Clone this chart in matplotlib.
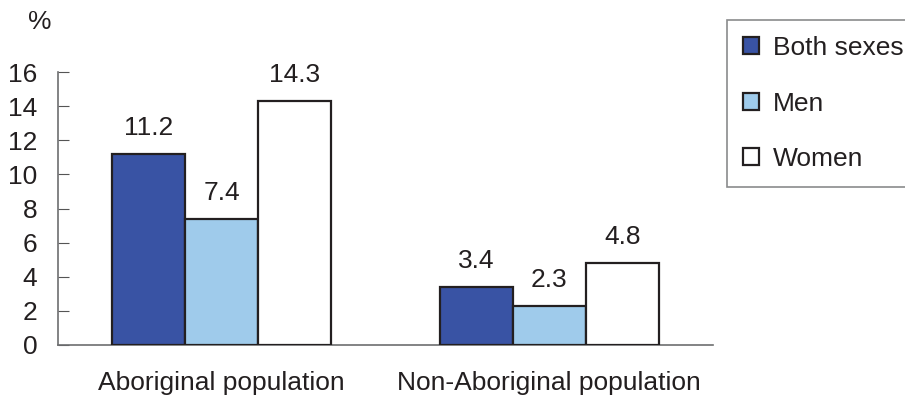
import matplotlib.pyplot as plt
import numpy as np

plt.rcParams['font.family'] = ['Liberation Sans', 'DejaVu Sans']

groups = ['Aboriginal population', 'Non-Aboriginal population']
series = ['Both sexes', 'Men', 'Women']
both_sexes = [11.2, 3.4]
men = [7.4, 2.3]
women = [14.3, 4.8]
y_ticks = [0, 2, 4, 6, 8, 10, 12, 14, 16]

colors = ['#3953a4', '#9fcbeb', '#ffffff']
ink = '#231f20'
fs = 19

fig = plt.figure(figsize=(9.05, 3.97), dpi=100)
ax = fig.add_axes([58 / 905, 1 - 345 / 397, 655 / 905, 273 / 397])

x = np.arange(len(groups))
w = 0.223
handles = []
for i, (vals, c) in enumerate(zip([both_sexes, men, women], colors)):
    bars = ax.bar(x + (i - 1) * w, vals, w, color=c, edgecolor=ink,
                  linewidth=1.6, label=series[i], zorder=3)
    handles.append(bars)
    for xi, v in zip(x + (i - 1) * w, vals):
        ax.text(xi, v + 0.8, f'{v:.1f}', ha='center', va='bottom',
                fontsize=fs, color=ink)

ax.set_xlim(-0.5, 1.5)
ax.set_ylim(0, 16)
ax.set_yticks(y_ticks)
ax.set_xticks(x)
ax.set_xticklabels(groups)
ax.tick_params(axis='y', direction='in', length=8, color='#555555',
               labelsize=fs, labelcolor=ink, pad=15)
ax.tick_params(axis='x', length=0, labelsize=fs, labelcolor=ink, pad=19)
for s in ['top', 'right']:
    ax.spines[s].set_visible(False)
for s in ['left', 'bottom']:
    ax.spines[s].set_color('#6d6e70')
    ax.spines[s].set_linewidth(1.2)

fig.text(40 / 905, 1 - 22 / 397, '%', ha='center', va='center',
         fontsize=fs, color=ink)

leg = fig.legend(handles=handles, labels=series, loc='upper left',
                 bbox_to_anchor=(727 / 905, 1 - 20 / 397), fontsize=fs,
                 frameon=True, fancybox=False, handlelength=0.6,
                 handleheight=0.6, handletextpad=0.55, labelspacing=1.2,
                 borderpad=0.6, borderaxespad=0)
leg.get_frame().set_edgecolor('#6d6e70')
leg.get_frame().set_linewidth(1.2)
for t in leg.get_texts():
    t.set_color(ink)

fig.savefig('out.png', dpi=100)
